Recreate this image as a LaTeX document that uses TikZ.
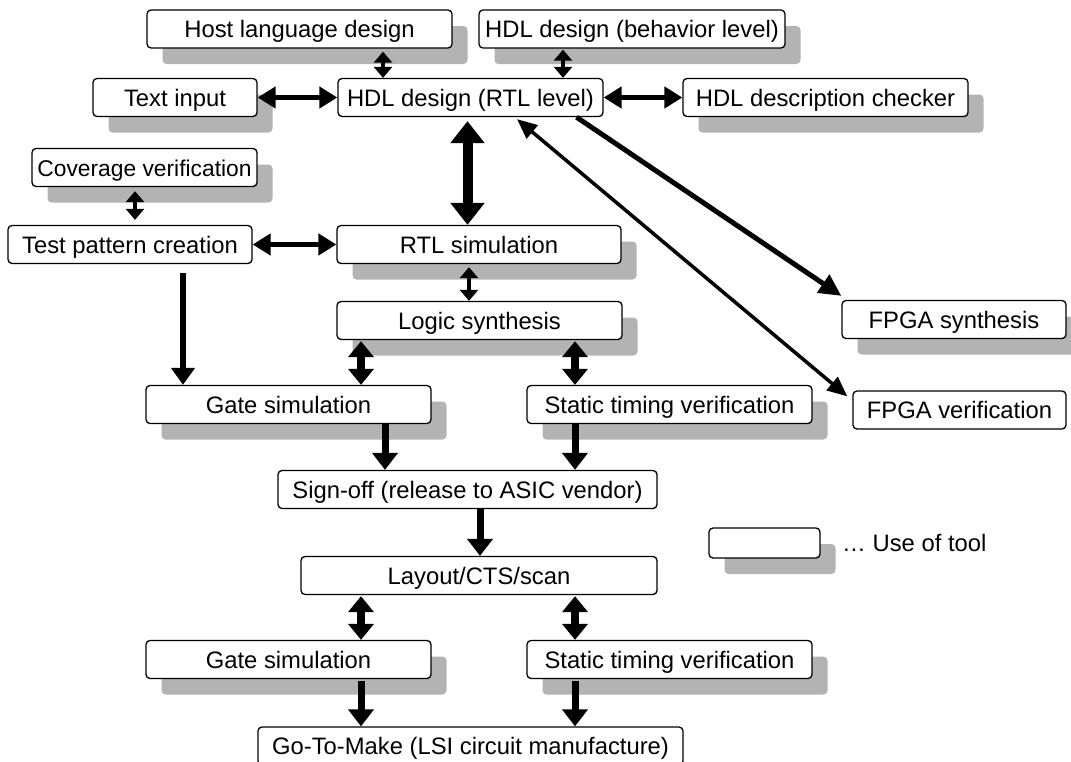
\documentclass[tikz,border=0pt]{standalone}
\usepackage{fontspec}
\setmainfont{Liberation Sans}
\usetikzlibrary{arrows.meta,shadows}
\definecolor{shade}{RGB}{179,179,179}
\begin{document}
\begin{tikzpicture}[x=1pt,y=-1pt,
  box/.style={draw, line width=1.3pt, rounded corners=4pt, fill=white,
    inner sep=0pt, minimum height=38pt, text height=17pt, text depth=0pt,
    font=\fontsize{23.8}{28}\selectfont},
  tool/.style={box, drop shadow={shadow xshift=15.5pt, shadow yshift=-16pt,
    fill=shade, opacity=1}},
  smallboth/.style={line width=4.5pt,
    {Triangle[length=11pt,width=18pt]}-{Triangle[length=11pt,width=18pt]}},
  sideboth/.style={line width=5pt,
    {Triangle[length=18pt,width=21pt]}-{Triangle[length=18pt,width=21pt]}},
  bigboth/.style={line width=10pt,
    {Triangle[length=22pt,width=33pt]}-{Triangle[length=22pt,width=33pt]}},
  midboth/.style={line width=8pt,
    {Triangle[length=16pt,width=25pt]}-{Triangle[length=16pt,width=25pt]}},
  down/.style={line width=7pt, -{Triangle[length=17pt,width=25pt]}},
  thindown/.style={line width=5.5pt, -{Triangle[length=17pt,width=23pt]}},
  diag/.style={line width=5pt, -{Triangle[length=22pt,width=21pt]}},
  diagboth/.style={line width=3.5pt,
    {Triangle[length=20pt,width=17pt]}-{Triangle[length=20pt,width=17pt]}}]

\useasboundingbox (0,0) rectangle (1071,761);
\clip (0,0) rectangle (1071,761);

% design entry
\node[tool, minimum width=305pt] (host)    at (299.5,29)  {Host language design};
\node[tool, minimum width=306pt] (hdlbeh)  at (632,29)    {HDL design (behavior level)};
\node[tool, minimum width=164pt] (txtin)   at (175,97.5)  {Text input};
\node[box,  minimum width=265pt] (hdlrtl)  at (470.5,97.5){HDL design (RTL level)};
\node[tool, minimum width=285pt] (checker) at (825.5,97.5){HDL description checker};

% RTL verification
\node[tool, minimum width=225pt, font=\fontsize{22.8}{28}\selectfont]
                                 (cover)   at (144.5,167.5){Coverage verification};
\node[box,  minimum width=244pt] (testpat) at (130,244.5) {Test pattern creation};
\node[tool, minimum width=284pt] (rtlsim)  at (479,244.5) {RTL simulation};
\node[tool, minimum width=285pt] (logic)   at (479.5,320.5){Logic synthesis};

% FPGA branch
\node[tool, minimum width=224pt] (fpgasyn) at (954,319.5) {FPGA synthesis};
\node[box,  minimum width=213pt] (fpgaver) at (959.5,410) {FPGA verification};

% gate level before sign-off
\node[tool, minimum width=285pt] (gate1)   at (288.5,404.5){Gate simulation};
\node[tool, minimum width=285pt] (sta1)    at (669.5,404.5){Static timing verification};
\node[box,  minimum width=379pt] (signoff) at (467.5,489.5){Sign-off (release to ASIC vendor)};

% legend
\node[tool, minimum width=111pt, minimum height=30pt] (legend) at (764.5,543) {};
\node[anchor=west, inner sep=0pt, text height=17pt, text depth=0pt,
  font=\fontsize{23.8}{28}\selectfont] (legtext) at (842,543) {… Use of tool};

% back end
\node[box,  minimum width=356pt] (layout)  at (479,575.5) {Layout/CTS/scan};
\node[tool, minimum width=285pt] (gate2)   at (288.5,659.5){Gate simulation};
\node[tool, minimum width=285pt] (sta2)    at (669.5,659.5){Static timing verification};
\node[box,  minimum width=425pt] (make)    at (470.5,746) {Go-To-Make (LSI circuit manufacture)};

% connectors
\draw[smallboth, shorten <=3pt] ([xshift=83.5pt]host.south) -- ([xshift=-87.5pt]hdlrtl.north);
\draw[smallboth, shorten <=1pt] ([xshift=-69pt]hdlbeh.south) -- ([xshift=92.5pt]hdlrtl.north);
\draw[sideboth] (txtin.east) -- (hdlrtl.west);
\draw[sideboth] (hdlrtl.east) -- (checker.west);
\draw[bigboth, shorten <=4pt] ([xshift=-3pt]hdlrtl.south) -- ([xshift=-11.5pt]rtlsim.north);
\draw[smallboth, shorten <=4pt, shorten >=5pt] ([xshift=-9.5pt]cover.south) -- ([xshift=5pt]testpat.north);
\draw[sideboth] (testpat.east) -- (rtlsim.west);
\draw[thindown, shorten <=9pt] ([xshift=53pt]testpat.south) -- ([xshift=-105.5pt]gate1.north);
\draw[smallboth, shorten <=3pt] ([xshift=-10pt]rtlsim.south) -- ([xshift=-10.5pt]logic.north);
\draw[midboth, shorten <=1pt] ([xshift=-118.5pt]logic.south) -- ([xshift=72.5pt]gate1.north);
\draw[midboth, shorten <=1pt] ([xshift=95.5pt]logic.south) -- ([xshift=-94.5pt]sta1.north);
\draw[down] ([xshift=96.5pt]gate1.south) -- ([xshift=-82.5pt]signoff.north);
\draw[down] ([xshift=-94.5pt]sta1.south) -- ([xshift=107.5pt]signoff.north);
\draw[down] ([xshift=12.5pt]signoff.south) -- ([xshift=1pt]layout.north);
\draw[midboth, shorten <=1pt] ([xshift=-118pt]layout.south) -- ([xshift=72.5pt]gate2.north);
\draw[midboth, shorten <=1pt] ([xshift=96pt]layout.south) -- ([xshift=-94.5pt]sta2.north);
\draw[down, shorten <=2pt] ([xshift=72.5pt]gate2.south) -- ([xshift=-109.5pt]make.north);
\draw[down, shorten <=2pt] ([xshift=-94.5pt]sta2.south) -- ([xshift=104.5pt]make.north);
\draw[diag] ([xshift=106pt]hdlrtl.south) -- ([yshift=4pt]fpgasyn.north west);
\draw[diagboth] ([xshift=46.5pt,yshift=-2pt]hdlrtl.south) -- ([xshift=-5pt,yshift=-6pt]fpgaver.north west);

\end{tikzpicture}
\end{document}
